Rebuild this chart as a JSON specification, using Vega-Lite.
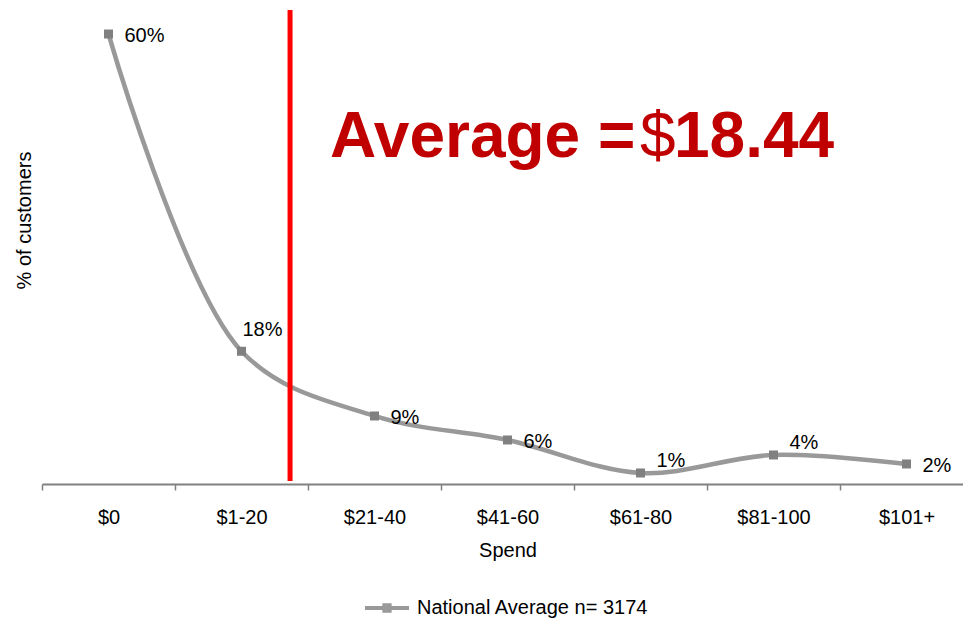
{
  "$schema": "https://vega.github.io/schema/vega-lite/v6.json",
  "width": 921,
  "height": 474,
  "autosize": {"type": "none"},
  "padding": {"left": 42, "top": 10, "right": 0, "bottom": 134},
  "background": "white",
  "config": {"view": {"stroke": null}, "font": "Liberation Sans"},
  "data": {"values": [
    {"spend": "$0", "pct": 60.0, "label": "60%", "series": "National Average n= 3174"},
    {"spend": "$1-20", "pct": 17.7, "label": "18%", "series": "National Average n= 3174"},
    {"spend": "$21-40", "pct": 9.07, "label": "9%", "series": "National Average n= 3174"},
    {"spend": "$41-60", "pct": 5.87, "label": "6%", "series": "National Average n= 3174"},
    {"spend": "$61-80", "pct": 1.47, "label": "1%", "series": "National Average n= 3174"},
    {"spend": "$81-100", "pct": 3.87, "label": "4%", "series": "National Average n= 3174"},
    {"spend": "$101+", "pct": 2.67, "label": "2%", "series": "National Average n= 3174"}
  ]},
  "encoding": {
    "x": {
      "field": "spend", "type": "nominal", "sort": null,
      "scale": {"type": "band", "domain": ["$0", "$1-20", "$21-40", "$41-60", "$61-80", "$81-100", "$101+"], "range": [0, 931], "paddingInner": 0, "paddingOuter": 0},
      "axis": {
        "title": "Spend", "titleFontSize": 20, "titleFontWeight": "normal", "titleColor": "#000000", "titlePadding": 13,
        "labelFontSize": 20, "labelColor": "#000000", "labelAngle": 0, "labelPadding": 17,
        "tickBand": "extent", "tickSize": 6, "tickColor": "#808080", "tickWidth": 1.5,
        "domainColor": "#808080", "domainWidth": 2, "grid": false
      }
    },
    "y": {
      "field": "pct", "type": "quantitative",
      "scale": {"domain": [0, 63.2], "nice": false, "zero": true},
      "axis": {
        "title": "% of customers", "titleFontSize": 20, "titleFontWeight": "normal", "titleColor": "#000000",
        "titleAngle": -90, "titleX": -12, "titleY": 210, "titleAlign": "center", "titleBaseline": "alphabetic",
        "domain": false, "ticks": false, "labels": false, "grid": false
      }
    }
  },
  "layer": [
    {
      "mark": {"type": "line", "strokeWidth": 4.5, "interpolate": "catmull-rom"},
      "encoding": {
        "color": {
          "field": "series", "type": "nominal",
          "scale": {"range": ["#999999"]},
          "legend": {
            "orient": "none", "legendX": 321, "legendY": 574, "title": null, "padding": 0,
            "symbolType": "M-1,0H1M-0.12,-0.12H0.12V0.12H-0.12Z", "symbolSize": 1936, "symbolStrokeWidth": 4,
            "labelFontSize": 20, "labelColor": "#000000", "labelOffset": 6, "labelLimit": 400,
            "encode": {"symbols": {"update": {"fill": {"value": "#808080"}, "stroke": {"value": "#999999"}, "strokeWidth": {"value": 4}}}}
          }
        }
      }
    },
    {
      "mark": {"type": "point", "shape": "square", "filled": true, "size": 81, "color": "#808080", "opacity": 1}
    },
    {
      "transform": [{"filter": {"field": "spend", "oneOf": ["$0", "$21-40", "$41-60", "$101+"]}}],
      "mark": {"type": "text", "align": "left", "baseline": "middle", "dx": 16, "dy": 2, "fontSize": 20, "color": "#000000"},
      "encoding": {"text": {"field": "label"}}
    },
    {
      "transform": [{"filter": {"field": "spend", "oneOf": ["$61-80", "$81-100"]}}],
      "mark": {"type": "text", "align": "left", "baseline": "middle", "dx": 16, "dy": -12, "fontSize": 20, "color": "#000000"},
      "encoding": {"text": {"field": "label"}}
    },
    {
      "transform": [{"filter": {"field": "spend", "oneOf": ["$1-20"]}}],
      "mark": {"type": "text", "align": "left", "baseline": "middle", "dx": 1, "dy": -21, "fontSize": 20, "color": "#000000"},
      "encoding": {"text": {"field": "label"}}
    },
    {
      "data": {"values": [{"spend": "$1-20", "average": 18.44, "top": 63.2, "bottom": 0.4}]},
      "mark": {"type": "rule", "color": "#FF0000", "strokeWidth": 5},
      "encoding": {
        "x": {"field": "spend", "type": "nominal", "bandPosition": 0.865},
        "y": {"field": "top", "type": "quantitative"},
        "y2": {"field": "bottom"}
      }
    },
    {
      "data": {"values": [{"spend": "$21-40", "level": 43.6, "annotation": "Average ="}]},
      "mark": {"type": "text", "align": "left", "baseline": "alphabetic", "fontSize": 64, "fontWeight": "bold", "color": "#C00000"},
      "encoding": {
        "x": {"field": "spend", "type": "nominal", "bandPosition": 0.165},
        "y": {"field": "level", "type": "quantitative"},
        "text": {"field": "annotation"}
      }
    },
    {
      "data": {"values": [{"spend": "$61-80", "level": 43.6, "annotation": "$"}]},
      "mark": {"type": "text", "align": "left", "baseline": "alphabetic", "fontSize": 64, "fontWeight": "normal", "color": "#C00000"},
      "encoding": {
        "x": {"field": "spend", "type": "nominal", "bandPosition": 0.496},
        "y": {"field": "level", "type": "quantitative"},
        "text": {"field": "annotation"}
      }
    },
    {
      "data": {"values": [{"spend": "$61-80", "level": 43.6, "annotation": "18.44"}]},
      "mark": {"type": "text", "align": "left", "baseline": "alphabetic", "fontSize": 64, "fontWeight": "bold", "color": "#C00000"},
      "encoding": {
        "x": {"field": "spend", "type": "nominal", "bandPosition": 0.752},
        "y": {"field": "level", "type": "quantitative"},
        "text": {"field": "annotation"}
      }
    }
  ]
}
